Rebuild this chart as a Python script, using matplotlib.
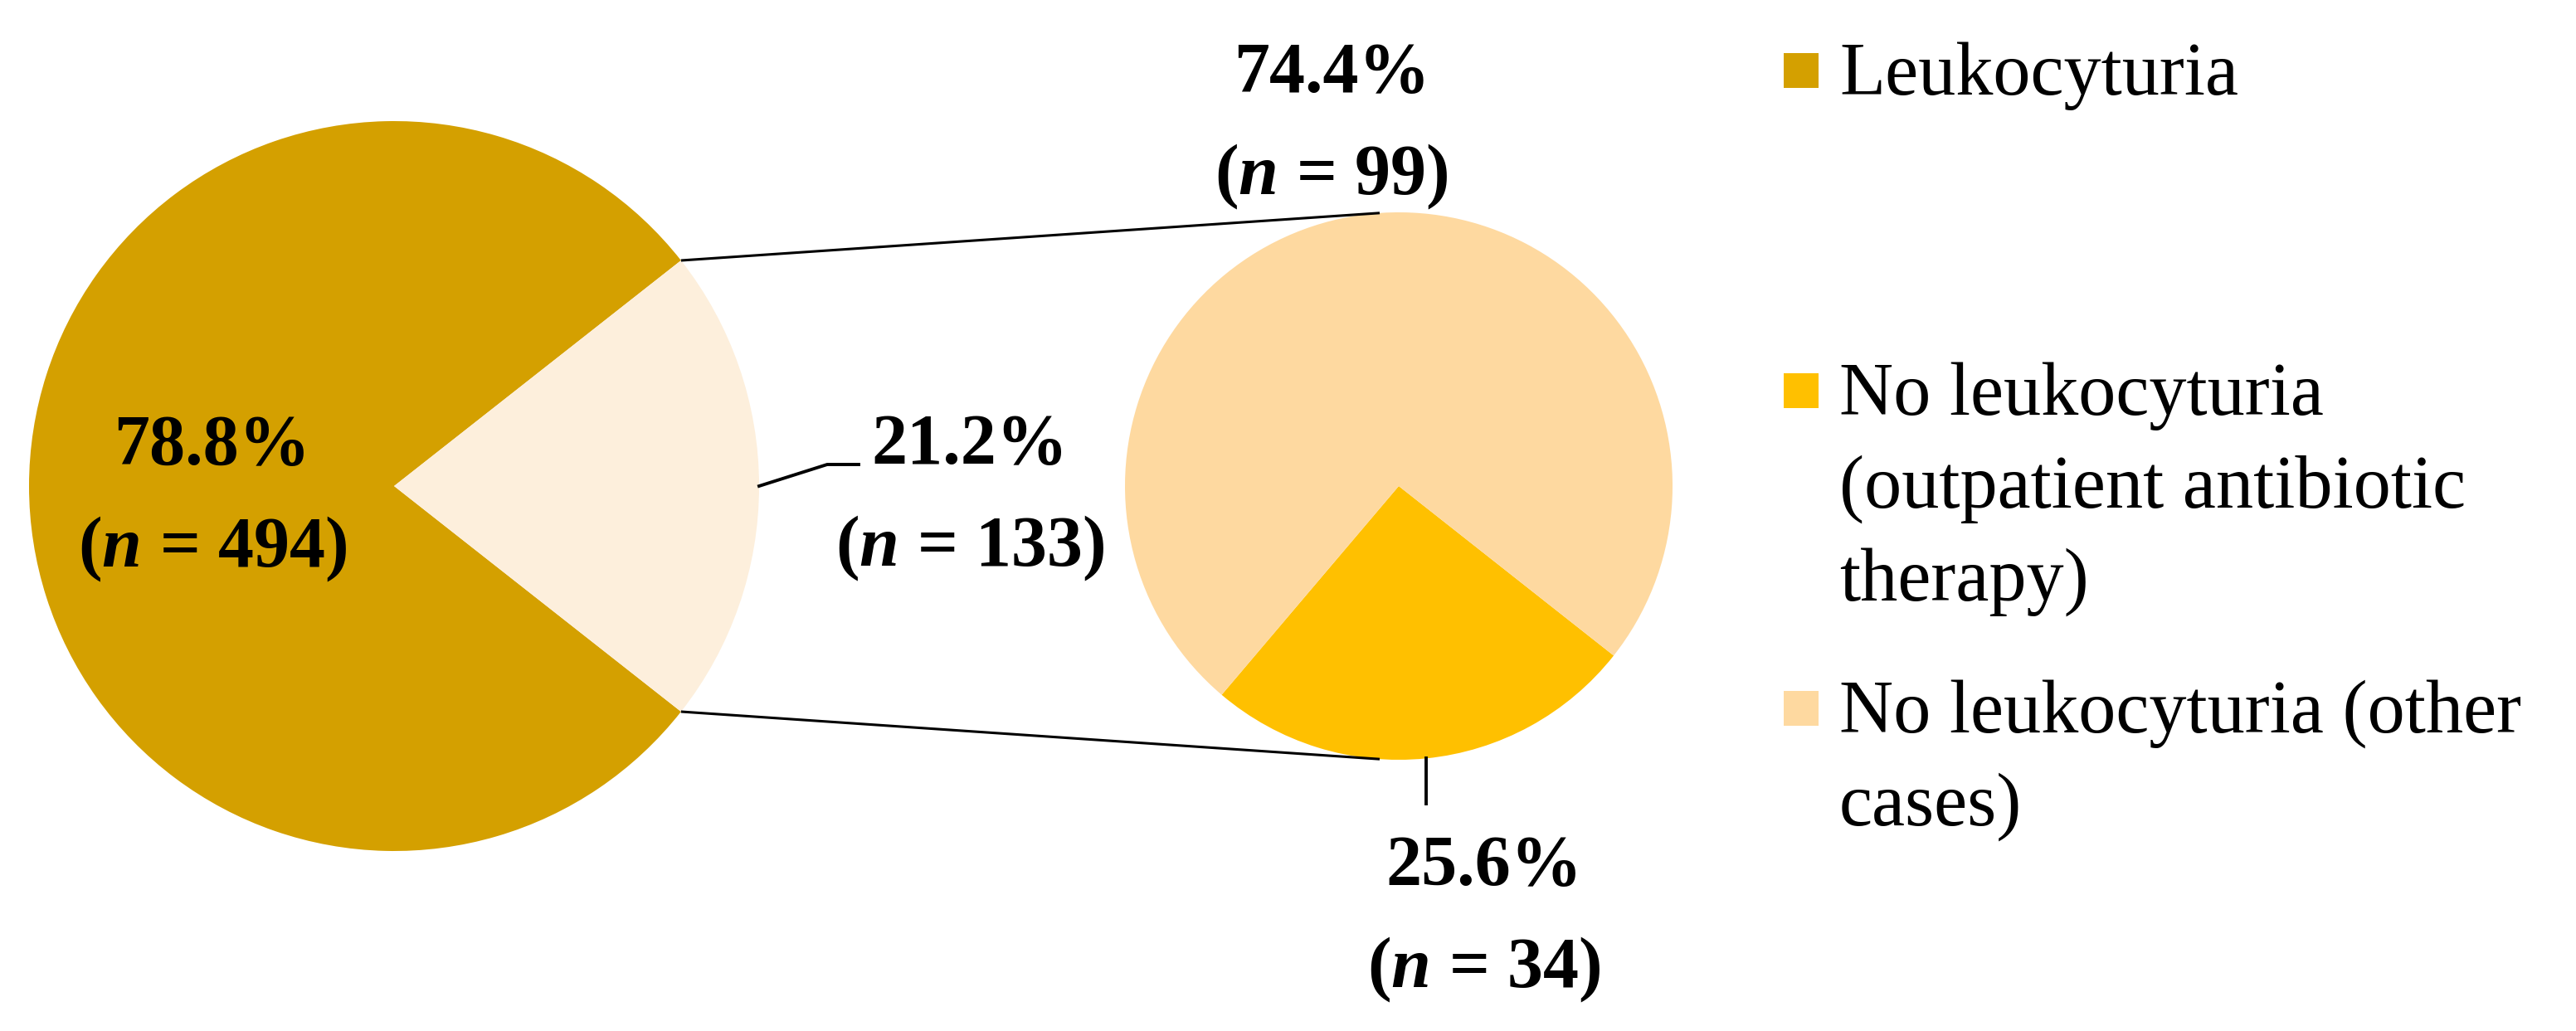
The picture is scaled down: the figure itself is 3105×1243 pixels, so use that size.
import matplotlib
matplotlib.use('Agg')
import matplotlib.pyplot as plt
from matplotlib.patches import Rectangle
import numpy as np

# data
main_labels = ['Leukocyturia', 'No leukocyturia']
main_counts = [494, 133]
sub_labels = ['No leukocyturia (outpatient antibiotic therapy)', 'No leukocyturia (other cases)']
sub_counts = [34, 99]
legend_labels = ['Leukocyturia',
                 'No leukocyturia\n(outpatient antibiotic\ntherapy)',
                 'No leukocyturia (other\ncases)']

c_leuko = '#D4A000'
c_noleuko = '#FDEFDC'
c_outpat = '#FFC000'
c_other = '#FED9A0'

plt.rcParams['font.family'] = 'Liberation Serif'
plt.rcParams['mathtext.fontset'] = 'custom'
plt.rcParams['mathtext.it'] = 'Liberation Serif:italic:bold'
plt.rcParams['mathtext.rm'] = 'Liberation Serif:bold'

W, H = 3105, 1243
fig = plt.figure(figsize=(W / 100, H / 100), dpi=100)
ax = fig.add_axes([0, 0, 1, 1])


def py(y):
    # pixel row (from top) -> data y
    return H - y


# left pie
c1 = (475, py(586))
r1 = 440
frac_no = main_counts[1] / sum(main_counts)
w1, _ = ax.pie(main_counts, colors=[c_leuko, c_noleuko], center=c1, radius=r1,
               startangle=180 * frac_no, wedgeprops=dict(linewidth=0), frame=True)

# right pie
c2 = (1686, py(586))
r2 = 330
w2, _ = ax.pie(sub_counts, colors=[c_outpat, c_other], center=c2, radius=r2,
               startangle=229.7, wedgeprops=dict(linewidth=0), frame=True)

# connection lines between the two pies
th1 = np.deg2rad(w1[1].theta2)
th2 = np.deg2rad(w1[1].theta1)
for th, ang in [(th1, 94), (th2, 266)]:
    x0 = c1[0] + r1 * np.cos(th)
    y0 = c1[1] + r1 * np.sin(th)
    x1 = c2[0] + r2 * np.cos(np.deg2rad(ang))
    y1 = c2[1] + r2 * np.sin(np.deg2rad(ang))
    ax.plot([x0, x1], [y0, y1], color='black', lw=2.2, solid_capstyle='butt')

# percentages
pct_main = [100 * v / sum(main_counts) for v in main_counts]
pct_sub = [100 * v / sum(sub_counts) for v in sub_counts]


def lab(x, ybase, pct, n):
    ax.text(x, py(ybase), f'{pct:.1f}%', ha='center', va='baseline',
            fontsize=62, fontweight='bold')
    ax.text(x, py(ybase + 123), f'($n$ = {n})', ha='center', va='baseline',
            fontsize=62, fontweight='bold')


lab(256, 560, pct_main[0], main_counts[0])
lab(1169, 559, pct_main[1], main_counts[1])
lab(1605, 111, pct_sub[1], sub_counts[1])
lab(1789, 1067, pct_sub[0], sub_counts[0])

# leader lines
ax.plot([c1[0] + r1, 997, 1035], [c1[1], py(560), py(560)], color='black', lw=2.8)
mid = np.deg2rad((w2[0].theta1 + w2[0].theta2) / 2)
lx = c2[0] + r2 * np.cos(mid)
ax.plot([lx, lx], [c2[1] + r2 * np.sin(mid), py(969)], color='black', lw=2.8)

# legend
leg_colors = [c_leuko, c_outpat, c_other]
leg_base = [114, 500, 883]
for lbl, col, yb in zip(legend_labels, leg_colors, leg_base):
    ax.add_patch(Rectangle((2150, py(yb - 8)), 42, 42, facecolor=col, edgecolor='none'))
    for i, line in enumerate(lbl.split('\n')):
        ax.text(2217, py(yb + 112 * i), line, ha='left', va='baseline', fontsize=65)

ax.set_xlim(0, W)
ax.set_ylim(0, H)
ax.set_aspect('equal')
ax.set_axis_off()

fig.savefig('out.png', dpi=100, facecolor='white')
